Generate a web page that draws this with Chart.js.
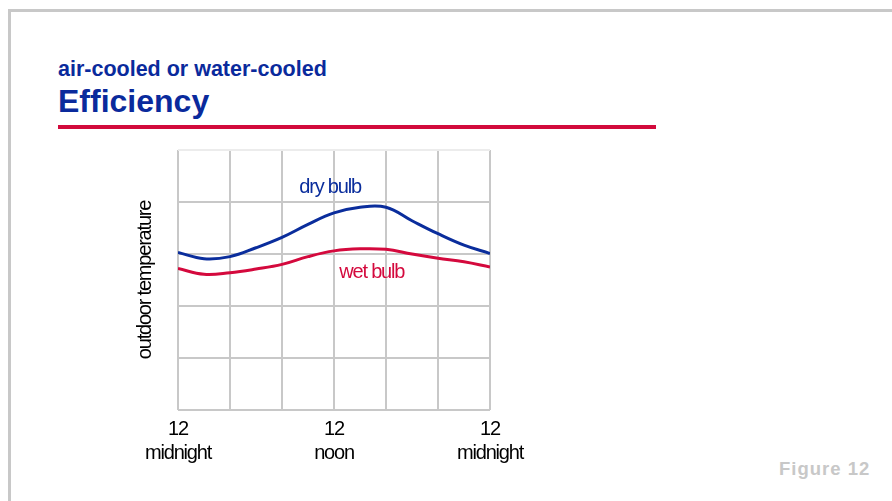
<!DOCTYPE html>
<html>
<head>
<meta charset="utf-8">
<script src="https://cdn.jsdelivr.net/npm/chart.js@4.4.1/dist/chart.umd.min.js"></script>
<style>
  html, body { margin: 0; padding: 0; background: #fff; }
  body { width: 892px; height: 501px; position: relative; overflow: hidden; font-family: "Liberation Sans", Arial, sans-serif; }
  .frame-top { position: absolute; left: 8px; top: 9px; width: 884px; height: 3px; background: #c8c8c8; }
  .frame-left { position: absolute; left: 8px; top: 9px; width: 3px; height: 492px; background: #c8c8c8; }
  .sub { position: absolute; left: 58px; top: 59px; font-size: 21.5px; line-height: 21.5px; font-weight: bold; color: #0a2a9c; white-space: nowrap; }
  .ttl { position: absolute; left: 58px; top: 85px; font-size: 32px; line-height: 32px; font-weight: bold; color: #0a2a9c; white-space: nowrap; }
  .rule { position: absolute; left: 58px; top: 125px; width: 598px; height: 4px; background: #d20a3c; }
  .fig { position: absolute; left: 779px; top: 460px; font-size: 18.5px; line-height: 18px; font-weight: bold; color: #c8c8c8; letter-spacing: 1px; white-space: nowrap; }
  canvas { position: absolute; left: 0; top: 0; }
</style>
</head>
<body>
<div class="frame-top"></div>
<div class="frame-left"></div>
<div class="sub">air-cooled or water-cooled</div>
<div class="ttl">Efficiency</div>
<div class="rule"></div>
<div class="fig">Figure 12</div>
<canvas id="c" width="892" height="501"></canvas>
<script>
// hours of the day (0 = midnight, 12 = noon, 24 = midnight)
const hours = [0, 2, 4, 6, 8, 10, 12, 14, 16, 18, 20, 22, 24];
// relative outdoor temperature (grid units)
const dryBulb = [3.03, 2.91, 2.95, 3.12, 3.32, 3.57, 3.79, 3.90, 3.90, 3.64, 3.39, 3.17, 3.01];
const wetBulb = [2.72, 2.61, 2.64, 2.71, 2.80, 2.95, 3.06, 3.10, 3.09, 3.00, 2.92, 2.85, 2.75];
// x-axis tick labels
const tickLabels = { 0: ['12', 'midnight'], 12: ['12', 'noon'], 24: ['12', 'midnight'] };
const seriesNames = ['dry bulb', 'wet bulb'];
const yTitle = 'outdoor temperature';

const BLUE = '#0a2d9c';
const RED = '#d4093d';
const GRID = '#c8c8c8';
const FONT = "'Liberation Sans', Arial, sans-serif";
const SPACING = '-1.2px';

// in-chart label anchors (data coordinates)
const labelAnchors = [
  { x: 11.7, y: 4.27, color: BLUE },
  { x: 14.9, y: 2.65, color: RED }
];

const spacingPlugin = {
  id: 'spacing',
  beforeInit(chart) { chart.ctx.letterSpacing = SPACING; },
  beforeUpdate(chart) { chart.ctx.letterSpacing = SPACING; },
  beforeDraw(chart) { chart.ctx.letterSpacing = SPACING; }
};

const seriesLabelPlugin = {
  id: 'seriesLabels',
  afterDatasetsDraw(chart) {
    const { ctx, scales } = chart;
    ctx.save();
    ctx.letterSpacing = SPACING;
    ctx.font = "20px " + FONT;
    ctx.textAlign = 'center';
    ctx.textBaseline = 'middle';
    labelAnchors.forEach((a, i) => {
      ctx.fillStyle = a.color;
      ctx.fillText(seriesNames[i], scales.x.getPixelForValue(a.x), scales.y.getPixelForValue(a.y));
    });
    ctx.restore();
  }
};

new Chart(document.getElementById('c'), {
  type: 'line',
  data: {
    datasets: [
      { label: seriesNames[0], data: hours.map((h, i) => ({ x: h, y: dryBulb[i] })), borderColor: BLUE, borderWidth: 3, pointRadius: 0, tension: 0.4, fill: false },
      { label: seriesNames[1], data: hours.map((h, i) => ({ x: h, y: wetBulb[i] })), borderColor: RED, borderWidth: 3, pointRadius: 0, tension: 0.4, fill: false }
    ]
  },
  options: {
    responsive: false,
    animation: false,
    devicePixelRatio: 1,
    layout: { padding: { left: 129.5, right: 402, top: 150, bottom: 29 } },
    plugins: { legend: { display: false }, tooltip: { enabled: false }, title: { display: false } },
    scales: {
      x: {
        type: 'linear', min: 0, max: 24,
        border: { display: false },
        grid: { color: GRID, lineWidth: 2, drawTicks: false },
        ticks: {
          stepSize: 4, autoSkip: false, maxRotation: 0, padding: 7,
          color: '#000', font: { family: FONT, size: 20 },
          callback: (v) => tickLabels[v] || ''
        }
      },
      y: {
        min: 0, max: 5,
        border: { display: false },
        grid: { color: (c) => c.tick && c.tick.value === 5 ? '#ececec' : GRID, lineWidth: 2, drawTicks: false },
        ticks: { display: false, stepSize: 1 },
        title: { display: true, text: yTitle, color: '#000', font: { family: FONT, size: 20 }, padding: { top: 4, bottom: 20.5 } }
      }
    }
  },
  plugins: [spacingPlugin, seriesLabelPlugin]
});
</script>
</body>
</html>
